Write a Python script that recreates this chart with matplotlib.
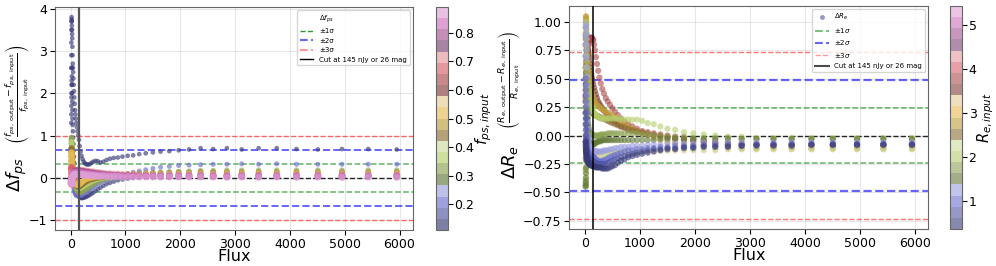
import numpy as np
import matplotlib
matplotlib.use("Agg")
from matplotlib import pyplot as plt
from matplotlib.lines import Line2D

flux = [10.4, 11.4, 12.5, 13.7, 15.0, 16.5, 18.1, 19.8, 21.7, 23.8,
        26.1, 28.7, 31.4, 34.4, 37.8, 41.4, 45.4, 49.8, 54.6, 59.8,
        65.6, 71.9, 78.9, 86.5, 94.8, 104, 114, 125, 137, 150,
        164, 180, 198, 217, 238, 261, 286, 313, 343, 377,
        413, 453, 496, 544, 597, 654, 717, 786, 862, 945,
        1040, 1140, 1250, 1370, 1500, 1640, 1800, 1970, 2160, 2370,
        2600, 2850, 3120, 3430, 3760, 4120, 4510, 4950, 5430, 5950]

# ---- left panel: delta f_ps, coloured by input f_ps ----
fps_levels = [0.12, 0.12, 0.20, 0.32, 0.38, 0.45, 0.50, 0.66, 0.72, 0.78, 0.83, 0.87]
dfps = [
    [2.6, 2.9, 3.2, 3.5, 3.7, 3.8, 3.75, 3.7, 3.6, 3.5,
     3.4, 3.3, 3.1, 2.9, 2.7, 2.6, 2.5, 2.35, 2.2, 2.05,
     1.9, 1.75, 1.6, 1.5, 1.4, 1.3, 1.2, 1.1, 1.0, 0.9,
     0.75, 0.62, 0.52, 0.44, 0.38, 0.34, 0.32, 0.31, 0.32, 0.35,
     0.38, 0.40, 0.39, 0.36, 0.38, 0.42, 0.45, 0.47, 0.48, 0.50,
     0.52, 0.53, 0.56, 0.58, 0.60, 0.62, 0.63, 0.65, 0.67, 0.70,
     0.68, 0.70, 0.67, 0.70, 0.70, 0.68, 0.67, 0.68, 0.68, 0.67],
    [1.3, 1.5, 1.7, 1.9, 2.0, 2.2, 2.3, 2.6, 2.4, 2.2,
     2.0, 1.8, 1.6, 1.4, 1.25, 1.1, 0.95, 0.8, 0.65, 0.5,
     0.35, 0.2, 0.05, -0.08, -0.18, -0.25, -0.32, -0.37, -0.41, -0.44,
     -0.46, -0.47, -0.48, -0.48, -0.47, -0.46, -0.45, -0.43, -0.41, -0.38,
     -0.35, -0.31, -0.27, -0.23, -0.19, -0.15, -0.12, -0.09, -0.06, -0.04,
     -0.02, 0.0, 0.02, 0.04, 0.05, 0.06, 0.07, 0.08, 0.09, 0.10,
     0.10, 0.11, 0.11, 0.12, 0.12, 0.12, 0.12, 0.12, 0.12, 0.12],
    [0.6, 0.7, 0.8, 0.85, 0.9, 0.9, 0.85, 0.8, 0.7, 0.6,
     0.5, 0.4, 0.3, 0.2, 0.1, 0.0, -0.08, -0.15, -0.2, -0.25,
     -0.3, -0.33, -0.36, -0.38, -0.4, -0.41, -0.42, -0.43, -0.43, -0.43,
     -0.43, -0.42, -0.41, -0.40, -0.38, -0.36, -0.34, -0.31, -0.28, -0.25,
     -0.22, -0.18, -0.15, -0.11, -0.08, -0.05, -0.02, 0.01, 0.04, 0.07,
     0.10, 0.13, 0.16, 0.19, 0.22, 0.25, 0.27, 0.29, 0.30, 0.31,
     0.32, 0.32, 0.33, 0.32, 0.33, 0.32, 0.32, 0.32, 0.32, 0.32],
    [0.7, 0.8, 0.9, 0.95, 0.95, 0.9, 0.85, 0.8, 0.75, 0.7,
     0.62, 0.55, 0.48, 0.4, 0.32, 0.25, 0.18, 0.1, 0.04, -0.02,
     -0.08, -0.13, -0.18, -0.22, -0.26, -0.29, -0.31, -0.33, -0.34, -0.35,
     -0.35, -0.35, -0.34, -0.33, -0.31, -0.29, -0.27, -0.25, -0.22, -0.19,
     -0.16, -0.13, -0.1, -0.07, -0.05, -0.03, -0.01, 0.01, 0.03, 0.05,
     0.07, 0.08, 0.1, 0.11, 0.12, 0.13, 0.14, 0.15, 0.16, 0.17,
     0.17, 0.18, 0.18, 0.18, 0.18, 0.18, 0.18, 0.18, 0.18, 0.18],
    [0.5, 0.6, 0.7, 0.8, 0.85, 0.85, 0.8, 0.75, 0.7, 0.62,
     0.55, 0.48, 0.4, 0.33, 0.26, 0.2, 0.14, 0.08, 0.03, -0.02,
     -0.06, -0.1, -0.13, -0.16, -0.19, -0.21, -0.23, -0.24, -0.25, -0.25,
     -0.25, -0.24, -0.23, -0.21, -0.19, -0.17, -0.15, -0.13, -0.11, -0.09,
     -0.07, -0.05, -0.03, -0.02, 0.0, 0.01, 0.03, 0.04, 0.05, 0.06,
     0.07, 0.08, 0.09, 0.1, 0.11, 0.12, 0.12, 0.13, 0.13, 0.14,
     0.14, 0.14, 0.15, 0.15, 0.15, 0.15, 0.15, 0.15, 0.15, 0.15],
    [0.4, 0.5, 0.6, 0.65, 0.7, 0.7, 0.65, 0.6, 0.55, 0.5,
     0.44, 0.38, 0.32, 0.26, 0.2, 0.15, 0.1, 0.05, 0.01, -0.03,
     -0.06, -0.09, -0.12, -0.15, -0.17, -0.19, -0.2, -0.21, -0.21, -0.21,
     -0.2, -0.19, -0.17, -0.15, -0.13, -0.11, -0.09, -0.07, -0.05, -0.04,
     -0.03, -0.01, 0.0, 0.01, 0.02, 0.03, 0.04, 0.05, 0.06, 0.07,
     0.08, 0.09, 0.1, 0.1, 0.11, 0.11, 0.12, 0.12, 0.12, 0.13,
     0.13, 0.13, 0.13, 0.13, 0.13, 0.13, 0.13, 0.13, 0.13, 0.13],
    [0.3, 0.4, 0.5, 0.55, 0.6, 0.6, 0.55, 0.5, 0.45, 0.4,
     0.35, 0.3, 0.25, 0.2, 0.15, 0.1, 0.06, 0.02, -0.02, -0.05,
     -0.08, -0.1, -0.12, -0.14, -0.15, -0.16, -0.17, -0.17, -0.17, -0.16,
     -0.15, -0.13, -0.11, -0.09, -0.07, -0.05, -0.03, -0.02, -0.01, 0.0,
     0.01, 0.02, 0.03, 0.03, 0.04, 0.05, 0.05, 0.06, 0.06, 0.07,
     0.07, 0.08, 0.08, 0.09, 0.09, 0.09, 0.1, 0.1, 0.1, 0.1,
     0.1, 0.11, 0.11, 0.11, 0.11, 0.11, 0.11, 0.11, 0.11, 0.11],
    [0.1, 0.15, 0.2, 0.25, 0.25, 0.22, 0.2, 0.18, 0.15, 0.12,
     0.1, 0.08, 0.06, 0.04, 0.03, 0.02, 0.01, 0.0, 0.0, 0.0,
     0.0, 0.01, 0.02, 0.03, 0.04, 0.05, 0.06, 0.07, 0.08, 0.09,
     0.1, 0.11, 0.12, 0.12, 0.12, 0.12, 0.12, 0.12, 0.11, 0.11,
     0.1, 0.1, 0.09, 0.09, 0.08, 0.08, 0.07, 0.07, 0.07, 0.06,
     0.06, 0.06, 0.06, 0.06, 0.06, 0.06, 0.06, 0.06, 0.06, 0.06,
     0.06, 0.06, 0.06, 0.06, 0.06, 0.06, 0.06, 0.06, 0.06, 0.06],
    [0.0, 0.05, 0.1, 0.12, 0.1, 0.08, 0.05, 0.03, 0.01, 0.0,
     0.0, 0.01, 0.02, 0.03, 0.05, 0.06, 0.07, 0.08, 0.09, 0.1,
     0.11, 0.12, 0.13, 0.14, 0.15, 0.16, 0.17, 0.18, 0.18, 0.18,
     0.18, 0.18, 0.18, 0.17, 0.17, 0.16, 0.16, 0.15, 0.15, 0.14,
     0.14, 0.13, 0.12, 0.12, 0.11, 0.1, 0.1, 0.09, 0.09, 0.08,
     0.08, 0.08, 0.07, 0.07, 0.07, 0.07, 0.07, 0.07, 0.07, 0.07,
     0.07, 0.07, 0.07, 0.07, 0.07, 0.07, 0.07, 0.07, 0.07, 0.07],
    [-0.05, -0.08, -0.1, -0.12, -0.12, -0.1, -0.08, -0.06, -0.04, -0.02,
     0.0, 0.02, 0.04, 0.06, 0.08, 0.09, 0.1, 0.11, 0.12, 0.13,
     0.14, 0.15, 0.15, 0.16, 0.16, 0.16, 0.16, 0.16, 0.16, 0.16,
     0.16, 0.15, 0.15, 0.15, 0.14, 0.14, 0.13, 0.13, 0.12, 0.12,
     0.11, 0.1, 0.1, 0.09, 0.08, 0.07, 0.07, 0.06, 0.06, 0.05,
     0.05, 0.05, 0.04, 0.04, 0.04, 0.04, 0.04, 0.04, 0.04, 0.04,
     0.04, 0.04, 0.04, 0.04, 0.04, 0.04, 0.04, 0.04, 0.04, 0.04],
    [-0.1, -0.12, -0.14, -0.15, -0.14, -0.12, -0.1, -0.07, -0.04, -0.02,
     0.0, 0.02, 0.04, 0.06, 0.07, 0.08, 0.09, 0.1, 0.11, 0.12,
     0.12, 0.12, 0.12, 0.12, 0.12, 0.12, 0.12, 0.12, 0.12, 0.12,
     0.12, 0.12, 0.11, 0.11, 0.11, 0.1, 0.1, 0.1, 0.09, 0.09,
     0.08, 0.08, 0.07, 0.07, 0.06, 0.06, 0.05, 0.05, 0.05, 0.04,
     0.04, 0.04, 0.03, 0.03, 0.03, 0.03, 0.03, 0.03, 0.03, 0.03,
     0.03, 0.03, 0.03, 0.03, 0.03, 0.03, 0.03, 0.03, 0.03, 0.03],
    [-0.12, -0.15, -0.15, -0.14, -0.12, -0.1, -0.08, -0.06, -0.04, -0.02,
     -0.01, 0.0, 0.01, 0.02, 0.03, 0.04, 0.05, 0.06, 0.06, 0.07,
     0.07, 0.08, 0.08, 0.08, 0.08, 0.08, 0.08, 0.08, 0.08, 0.08,
     0.08, 0.08, 0.07, 0.07, 0.07, 0.07, 0.06, 0.06, 0.06, 0.05,
     0.05, 0.05, 0.04, 0.04, 0.04, 0.03, 0.03, 0.03, 0.03, 0.02,
     0.02, 0.02, 0.02, 0.02, 0.02, 0.02, 0.02, 0.02, 0.02, 0.02,
     0.02, 0.01, 0.02, 0.01, 0.02, 0.01, 0.02, 0.01, 0.02, 0.01],
]
sigma_fps = 0.332

# ---- right panel: delta R_e, coloured by input R_e ----
re_levels = [3.9, 3.6, 3.2, 2.8, 2.6, 2.3, 2.1, 1.8, 1.5, 1.2, 0.9, 0.75, 0.6]
dre = [
    [0.3, 0.33, 0.36, 0.4, 0.43, 0.46, 0.5, 0.53, 0.56, 0.59,
     0.62, 0.65, 0.67, 0.7, 0.72, 0.74, 0.76, 0.78, 0.8, 0.81,
     0.82, 0.83, 0.84, 0.85, 0.86, 0.86, 0.86, 0.86, 0.85, 0.84,
     0.8, 0.75, 0.69, 0.63, 0.57, 0.51, 0.46, 0.41, 0.37, 0.33,
     0.3, 0.27, 0.24, 0.21, 0.18, 0.15, 0.12, 0.1, 0.08, 0.06,
     0.04, 0.03, 0.02, 0.01, 0.0, -0.01, -0.02, -0.03, -0.04, -0.05,
     -0.06, -0.07, -0.07, -0.08, -0.08, -0.08, -0.08, -0.08, -0.08, -0.08],
    [0.2, 0.25, 0.3, 0.35, 0.4, 0.45, 0.5, 0.55, 0.6, 0.63,
     0.66, 0.69, 0.71, 0.73, 0.74, 0.75, 0.75, 0.75, 0.74, 0.73,
     0.71, 0.69, 0.66, 0.63, 0.6, 0.57, 0.54, 0.51, 0.48, 0.45,
     0.42, 0.39, 0.36, 0.33, 0.3, 0.28, 0.26, 0.24, 0.22, 0.2,
     0.18, 0.16, 0.14, 0.12, 0.1, 0.08, 0.07, 0.05, 0.04, 0.03,
     0.02, 0.01, 0.0, -0.01, -0.02, -0.03, -0.04, -0.05, -0.06, -0.07,
     -0.08, -0.08, -0.08, -0.08, -0.08, -0.08, -0.08, -0.08, -0.08, -0.08],
    [0.9, 0.85, 0.78, 0.7, 0.6, 0.5, 0.4, 0.3, 0.2, 0.1,
     0.02, -0.05, -0.1, -0.14, -0.17, -0.19, -0.2, -0.21, -0.21, -0.2,
     -0.2, -0.19, -0.18, -0.17, -0.17, -0.16, -0.16, -0.16, -0.16, -0.16,
     -0.16, -0.16, -0.16, -0.16, -0.16, -0.16, -0.16, -0.16, -0.16, -0.16,
     -0.15, -0.15, -0.15, -0.15, -0.15, -0.15, -0.15, -0.15, -0.15, -0.15,
     -0.14, -0.14, -0.14, -0.13, -0.13, -0.13, -0.13, -0.13, -0.13, -0.13,
     -0.12, -0.12, -0.12, -0.12, -0.12, -0.12, -0.12, -0.12, -0.12, -0.12],
    [0.8, 0.88, 0.95, 1.0, 1.03, 1.05, 1.04, 1.02, 1.0, 0.97,
     0.93, 0.89, 0.85, 0.8, 0.76, 0.72, 0.68, 0.64, 0.6, 0.57,
     0.54, 0.51, 0.48, 0.45, 0.43, 0.41, 0.39, 0.37, 0.35, 0.33,
     0.31, 0.3, 0.28, 0.27, 0.26, 0.25, 0.24, 0.23, 0.22, 0.21,
     0.2, 0.19, 0.18, 0.16, 0.14, 0.12, 0.1, 0.08, 0.06, 0.04,
     0.02, 0.0, -0.02, -0.04, -0.05, -0.06, -0.07, -0.08, -0.09, -0.1,
     -0.1, -0.11, -0.11, -0.11, -0.11, -0.11, -0.11, -0.11, -0.11, -0.11],
    [0.5, 0.6, 0.7, 0.8, 0.85, 0.9, 0.88, 0.85, 0.8, 0.75,
     0.7, 0.65, 0.6, 0.55, 0.5, 0.46, 0.42, 0.38, 0.35, 0.32,
     0.3, 0.28, 0.26, 0.24, 0.23, 0.22, 0.21, 0.2, 0.2, 0.19,
     0.19, 0.18, 0.18, 0.17, 0.17, 0.16, 0.16, 0.15, 0.15, 0.14,
     0.13, 0.12, 0.11, 0.1, 0.09, 0.08, 0.07, 0.06, 0.05, 0.04,
     0.03, 0.02, 0.01, 0.0, -0.01, -0.02, -0.03, -0.04, -0.05, -0.06,
     -0.07, -0.08, -0.08, -0.09, -0.09, -0.09, -0.09, -0.09, -0.09, -0.09],
    [0.1, -0.05, -0.2, -0.3, -0.38, -0.42, -0.44, -0.42, -0.38, -0.33,
     -0.28, -0.24, -0.2, -0.17, -0.15, -0.14, -0.14, -0.15, -0.16, -0.17,
     -0.18, -0.19, -0.2, -0.21, -0.22, -0.23, -0.24, -0.25, -0.25, -0.26,
     -0.26, -0.25, -0.24, -0.23, -0.22, -0.21, -0.2, -0.19, -0.18, -0.17,
     -0.17, -0.16, -0.16, -0.15, -0.15, -0.15, -0.14, -0.14, -0.14, -0.14,
     -0.13, -0.13, -0.13, -0.13, -0.13, -0.12, -0.12, -0.12, -0.12, -0.12,
     -0.12, -0.12, -0.12, -0.12, -0.12, -0.12, -0.12, -0.12, -0.12, -0.12],
    [0.6, 0.7, 0.8, 0.9, 0.95, 1.0, 0.98, 0.95, 0.9, 0.85,
     0.8, 0.75, 0.7, 0.65, 0.6, 0.56, 0.52, 0.48, 0.44, 0.4,
     0.37, 0.34, 0.31, 0.29, 0.27, 0.25, 0.24, 0.23, 0.22, 0.21,
     0.2, 0.19, 0.18, 0.17, 0.16, 0.16, 0.15, 0.15, 0.15, 0.15,
     0.15, 0.15, 0.15, 0.15, 0.15, 0.15, 0.14, 0.14, 0.14, 0.14,
     0.13, 0.11, 0.1, 0.08, 0.06, 0.05, 0.03, 0.02, 0.01, 0.0,
     -0.01, -0.01, -0.02, -0.02, -0.02, -0.02, -0.02, -0.02, -0.02, -0.02],
    [-0.3, -0.2, -0.1, 0.0, 0.1, 0.2, 0.3, 0.4, 0.5, 0.55,
     0.5, 0.45, 0.4, 0.35, 0.3, 0.25, 0.2, 0.16, 0.12, 0.09,
     0.07, 0.05, 0.04, 0.03, 0.02, 0.02, 0.01, 0.01, 0.01, 0.0,
     0.0, 0.0, 0.0, 0.0, 0.0, 0.0, 0.01, 0.01, 0.01, 0.01,
     0.02, 0.02, 0.02, 0.02, 0.02, 0.02, 0.02, 0.02, 0.02, 0.02,
     0.01, 0.01, 0.0, 0.0, -0.01, -0.01, -0.01, -0.02, -0.02, -0.02,
     -0.02, -0.03, -0.03, -0.03, -0.03, -0.03, -0.03, -0.03, -0.03, -0.03],
    [-0.45, -0.44, -0.42, -0.4, -0.37, -0.33, -0.28, -0.22, -0.15, -0.08,
     0.0, 0.08, 0.15, 0.2, 0.22, 0.2, 0.15, 0.1, 0.05, 0.0,
     -0.03, -0.05, -0.06, -0.07, -0.08, -0.08, -0.08, -0.08, -0.08, -0.08,
     -0.07, -0.07, -0.06, -0.06, -0.05, -0.05, -0.05, -0.04, -0.04, -0.04,
     -0.04, -0.04, -0.04, -0.04, -0.04, -0.04, -0.04, -0.04, -0.04, -0.04,
     -0.04, -0.04, -0.04, -0.03, -0.03, -0.03, -0.03, -0.03, -0.03, -0.03,
     -0.03, -0.03, -0.03, -0.03, -0.03, -0.03, -0.03, -0.03, -0.03, -0.03],
    [0.7, 0.8, 0.88, 0.95, 0.98, 0.95, 0.9, 0.85, 0.8, 0.75,
     0.68, 0.6, 0.52, 0.44, 0.36, 0.28, 0.2, 0.12, 0.06, 0.0,
     -0.04, -0.07, -0.09, -0.1, -0.11, -0.12, -0.12, -0.13, -0.13, -0.13,
     -0.13, -0.14, -0.14, -0.14, -0.14, -0.14, -0.14, -0.14, -0.13, -0.13,
     -0.13, -0.12, -0.12, -0.11, -0.11, -0.1, -0.1, -0.1, -0.09, -0.09,
     -0.09, -0.08, -0.08, -0.08, -0.07, -0.07, -0.07, -0.07, -0.06, -0.06,
     -0.06, -0.06, -0.06, -0.06, -0.06, -0.06, -0.06, -0.06, -0.06, -0.06],
    [0.5, 0.45, 0.4, 0.35, 0.3, 0.25, 0.2, 0.15, 0.1, 0.05,
     0.0, -0.03, -0.06, -0.08, -0.1, -0.11, -0.12, -0.13, -0.14, -0.15,
     -0.15, -0.16, -0.16, -0.17, -0.17, -0.17, -0.18, -0.18, -0.18, -0.19,
     -0.19, -0.2, -0.21, -0.22, -0.22, -0.23, -0.23, -0.22, -0.22, -0.21,
     -0.2, -0.19, -0.18, -0.17, -0.16, -0.15, -0.14, -0.13, -0.13, -0.12,
     -0.12, -0.11, -0.11, -0.1, -0.1, -0.09, -0.09, -0.09, -0.08, -0.08,
     -0.08, -0.08, -0.08, -0.07, -0.07, -0.07, -0.07, -0.07, -0.07, -0.07],
    [0.2, 0.15, 0.1, 0.05, 0.0, -0.03, -0.06, -0.08, -0.1, -0.12,
     -0.13, -0.14, -0.15, -0.16, -0.17, -0.17, -0.18, -0.18, -0.19, -0.19,
     -0.2, -0.2, -0.2, -0.21, -0.21, -0.21, -0.22, -0.22, -0.22, -0.23,
     -0.23, -0.24, -0.24, -0.25, -0.25, -0.25, -0.25, -0.25, -0.25, -0.25,
     -0.24, -0.23, -0.22, -0.21, -0.2, -0.19, -0.18, -0.17, -0.16, -0.15,
     -0.14, -0.13, -0.12, -0.12, -0.11, -0.11, -0.1, -0.1, -0.09, -0.09,
     -0.09, -0.09, -0.08, -0.08, -0.08, -0.08, -0.08, -0.08, -0.08, -0.08],
    [-0.05, -0.06, -0.08, -0.1, -0.12, -0.13, -0.14, -0.15, -0.16, -0.17,
     -0.18, -0.19, -0.2, -0.2, -0.21, -0.22, -0.22, -0.23, -0.23, -0.24,
     -0.24, -0.25, -0.25, -0.25, -0.26, -0.26, -0.26, -0.26, -0.27, -0.27,
     -0.27, -0.27, -0.28, -0.28, -0.28, -0.28, -0.28, -0.29, -0.29, -0.29,
     -0.29, -0.28, -0.27, -0.26, -0.24, -0.22, -0.21, -0.19, -0.18, -0.17,
     -0.16, -0.15, -0.14, -0.13, -0.12, -0.12, -0.11, -0.11, -0.1, -0.1,
     -0.1, -0.09, -0.09, -0.09, -0.09, -0.08, -0.08, -0.08, -0.08, -0.08],
]
sigma_re = 0.244

flux_cut = 145


def stack(levels, series):
    x = np.tile(np.array(flux, dtype=float), len(levels))
    y = np.concatenate([np.array(s, dtype=float) for s in series])
    c = np.repeat(levels, len(flux))
    return x, y, c


def sigma_lines(ax, sig, blue_lw):
    ax.axhline(0, color="k", ls="--", lw=1, alpha=0.85)
    for k, col, lw, a in [(1, "green", 1.1, 0.6), (2, "blue", blue_lw, 0.6), (3, "red", 1.0, 0.55)]:
        ax.axhline(k * sig, color=col, ls="--", lw=lw, alpha=a)
        ax.axhline(-k * sig, color=col, ls="--", lw=lw, alpha=a)


def split_ylabel(ax, x, main, frac, y_main, y_frac):
    ax.text(x, y_main, main, rotation=90, fontsize=13, ha="center", va="center",
            transform=ax.transAxes)
    ax.text(x, y_frac, frac, rotation=90, fontsize=9.5, ha="center", va="center",
            transform=ax.transAxes)


fig = plt.figure(figsize=(9.96, 2.66), dpi=100)

# left
ax1 = fig.add_axes([0.0552, 0.1353, 0.3595, 0.8383])
x, y, c = stack(fps_levels, dfps)
sc1 = ax1.scatter(x, y, c=c, s=9 + 20 * c, cmap="tab20b", vmin=0.11, vmax=0.89,
                  alpha=0.65, edgecolors="none", zorder=3)
sigma_lines(ax1, sigma_fps, 1.4)
ax1.axvline(flux_cut, color="#555555", lw=1.6, zorder=4)
ax1.grid(alpha=0.3)
ax1.set_xlabel("Flux", fontsize=11.5, labelpad=-1)
split_ylabel(ax1, -0.105, r"$\Delta f_{ps}$",
             r"$\left(\frac{f_{ps,\ \mathrm{output}} - f_{ps,\ \mathrm{input}}}{f_{ps,\ \mathrm{input}}}\right)$",
             0.25, 0.61)
ax1.tick_params(labelsize=9, pad=2)
ax1.set_xticks([0, 1000, 2000, 3000, 4000, 5000, 6000])
for s in ax1.spines.values():
    s.set_color("#666666")
h1 = [Line2D([], [], ls="none"),
      Line2D([], [], color="green", ls="--", lw=1, alpha=0.8),
      Line2D([], [], color="blue", ls="--", lw=1.5, alpha=0.6),
      Line2D([], [], color="red", ls="--", lw=1.5, alpha=0.4),
      Line2D([], [], color="k", lw=1)]
l1 = ["$\\Delta f_{ps}$", "±1σ", "±2σ", "±3σ", "Cut at 145 nJy or 26 mag"]
ax1.legend(h1, l1, loc="upper right", fontsize=5)
cax1 = fig.add_axes([0.4378, 0.1353, 0.0115, 0.8383])
cb1 = fig.colorbar(sc1, cax=cax1)
cb1.set_ticks([0.2, 0.3, 0.4, 0.5, 0.6, 0.7, 0.8])
cb1.ax.tick_params(labelsize=9, pad=1)
cb1.outline.set_edgecolor("#666666")
cb1.set_label("$f_{ps, input}$", fontsize=11, labelpad=0)

# right
ax2 = fig.add_axes([0.5716, 0.1391, 0.3604, 0.8383])
x, y, c = stack(re_levels, dre)
sc2 = ax2.scatter(x, y, c=c, s=20, cmap="tab20b", vmin=0.36, vmax=5.43,
                  alpha=0.6, edgecolors="none", zorder=3)
sigma_lines(ax2, sigma_re, 1.6)
ax2.axvline(flux_cut, color="k", lw=1.1, zorder=4)
ax2.grid(alpha=0.3)
ax2.set_xlabel("Flux", fontsize=11.5, labelpad=-1)
split_ylabel(ax2, -0.165, r"$\Delta R_e$",
             r"$\left(\frac{R_{e,\ \mathrm{output}} - R_{e,\ \mathrm{input}}}{R_{e,\ \mathrm{input}}}\right)$",
             0.3, 0.67)
ax2.tick_params(labelsize=9, pad=2)
ax2.set_xticks([0, 1000, 2000, 3000, 4000, 5000, 6000])
ax2.set_yticks([-0.75, -0.5, -0.25, 0, 0.25, 0.5, 0.75, 1.0])
for s in ax2.spines.values():
    s.set_color("#666666")
h2 = [Line2D([], [], ls="none", marker="o", ms=3.5, color="#5254a3", alpha=0.6, mec="none"),
      Line2D([], [], color="green", ls="--", lw=1.5, alpha=0.5),
      Line2D([], [], color="blue", ls="--", lw=1.5, alpha=0.6),
      Line2D([], [], color="red", ls="--", lw=1, alpha=0.4),
      Line2D([], [], color="k", lw=1.5, alpha=0.7)]
l2 = ["$\\Delta R_e$", "±1$\\sigma$", "±2$\\sigma$", "±3$\\sigma$", "Cut at 145 nJy or 26 mag"]
ax2.legend(h2, l2, loc="upper right", fontsize=5)
cax2 = fig.add_axes([0.9538, 0.1391, 0.0124, 0.8383])
cb2 = fig.colorbar(sc2, cax=cax2)
cb2.set_ticks([1, 2, 3, 4, 5])
cb2.ax.tick_params(labelsize=9, pad=1)
cb2.outline.set_edgecolor("#666666")
cb2.set_label("$R_{e, input}$", fontsize=10.5, labelpad=-1)

fig.savefig("out.png", dpi=100)
